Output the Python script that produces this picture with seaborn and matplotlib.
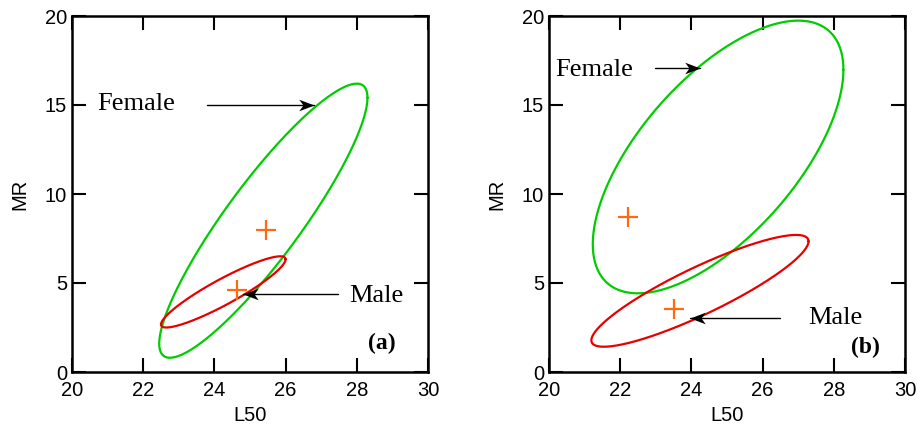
import numpy as np
import pandas as pd
import matplotlib
matplotlib.use("Agg")
import matplotlib.pyplot as plt
from matplotlib.path import Path
import seaborn as sns

# Confidence ellipses: centre (x, y), half-range in x and y, correlation
panels = ["(a)", "(b)"]
female_ellipse = [(25.375, 8.5, 2.925, 7.7, 0.897), (24.75, 12.08, 3.52, 7.66, 0.64)]
male_ellipse = [(24.25, 4.5, 1.75, 2.0, 0.914), (24.24, 4.56, 3.05, 3.14, 0.885)]

# Point estimates (L50, MR)
female_point = [(25.45, 8.0), (22.21, 8.69)]
male_point = [(24.64, 4.6), (23.50, 3.52)]

# Annotation text positions and arrow (start, tip) per panel
female_text = [(20.7, 15.05), (20.17, 16.95)]
female_arrow = [((23.79, 15.0), (26.80, 15.0)), ((22.98, 17.08), (24.25, 17.08))]
male_text = [(27.78, 4.25), (27.28, 3.03)]
male_arrow = [((27.47, 4.4), (24.80, 4.4)), ((26.49, 3.03), (23.96, 3.03))]
panel_label_pos = [(29.1, 1.6), (29.3, 1.4)]

sns.set_theme(style="ticks")
plt.rcParams["font.family"] = ["Liberation Sans", "DejaVu Sans"]
plt.rcParams["text.color"] = "black"
plt.rcParams["axes.labelcolor"] = "black"

GREEN = "#00cc00"
RED = "#e80000"
ORANGE = "#ff6a10"

# notched ("stealth") arrow head pointing to +x with its tip at the origin
head_right = Path([(0, 0), (-1.0, 0.38), (-0.72, 0), (-1.0, -0.38), (0, 0)],
                  [Path.MOVETO, Path.LINETO, Path.LINETO, Path.LINETO, Path.CLOSEPOLY])
head_left = Path([(0, 0), (1.0, 0.38), (0.72, 0), (1.0, -0.38), (0, 0)],
                 [Path.MOVETO, Path.LINETO, Path.LINETO, Path.LINETO, Path.CLOSEPOLY])


def ellipse_frame(cx, cy, hx, hy, rho, n=400):
    t = np.linspace(0, 2 * np.pi, n)
    x = cx + hx * np.cos(t)
    y = cy + hy * (rho * np.cos(t) + np.sqrt(1 - rho ** 2) * np.sin(t))
    return pd.DataFrame({"L50": x, "MR": y, "order": np.arange(n)})


def arrow(ax, start, tip):
    ax.plot([start[0], tip[0]], [start[1], tip[1]], color="black", lw=1.0)
    head = head_right if tip[0] > start[0] else head_left
    ax.plot([tip[0]], [tip[1]], marker=head, markersize=22, color="black",
            markeredgewidth=0, linestyle="none")


fig = plt.figure(figsize=(9.17, 4.30), dpi=100)
axes = [fig.add_axes([72 / 917, 58 / 430, 356 / 917, 356 / 430]),
        fig.add_axes([549 / 917, 58 / 430, 356 / 917, 356 / 430])]

for i, ax in enumerate(axes):
    fe = ellipse_frame(*female_ellipse[i])
    me = ellipse_frame(*male_ellipse[i])
    sns.lineplot(data=fe, x="L50", y="MR", sort=False, estimator=None,
                 color=GREEN, lw=1.6, ax=ax)
    sns.lineplot(data=me, x="L50", y="MR", sort=False, estimator=None,
                 color=RED, lw=1.6, ax=ax)
    pts = pd.DataFrame([female_point[i], male_point[i]], columns=["L50", "MR"])
    sns.scatterplot(data=pts, x="L50", y="MR", marker="+", s=200,
                    color=ORANGE, linewidth=1.6, ax=ax, zorder=5)

    ax.text(*female_text[i], "Female", family="Liberation Serif", fontsize=19,
            ha="left", va="center", color="black")
    arrow(ax, *female_arrow[i])
    ax.text(*male_text[i], "Male", family="Liberation Serif", fontsize=19,
            ha="left", va="center", color="black")
    arrow(ax, *male_arrow[i])
    ax.text(*panel_label_pos[i], panels[i], family="Liberation Serif",
            fontweight="bold", fontsize=17, ha="right", va="center",
            color="black")

    ax.set_xlim(20, 30)
    ax.set_ylim(0, 20)
    ax.set_xticks([20, 22, 24, 26, 28, 30])
    ax.set_yticks([0, 5, 10, 15, 20])
    ax.tick_params(direction="in", length=10, width=1.5, top=True, right=True,
                   labelsize=14.5, colors="black")
    ax.tick_params(axis="x", pad=6.5)
    ax.tick_params(axis="y", pad=3.5)
    for sp in ax.spines.values():
        sp.set_visible(True)
        sp.set_linewidth(1.8)
        sp.set_color("black")
    ax.set_xlabel("L50", fontsize=14.5, labelpad=4, color="black")
    ax.set_ylabel("MR", fontsize=14.5, labelpad=11, color="black")

fig.savefig("out.png", dpi=100)
